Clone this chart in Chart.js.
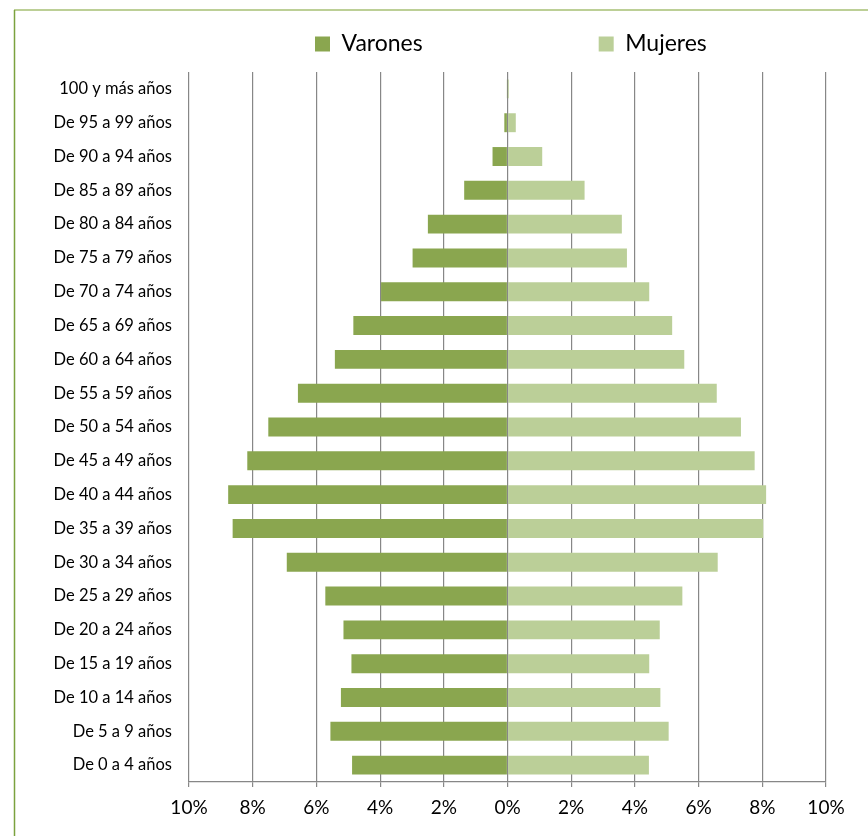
<!DOCTYPE html>
<html>
<head>
<meta charset="utf-8">
<script src="https://cdn.jsdelivr.net/npm/chart.js@4.4.1/dist/chart.umd.min.js"></script>
<style>
  html, body { margin: 0; padding: 0; background: #ffffff; }
  #wrap { position: relative; width: 868px; height: 836px; }
</style>
</head>
<body>
<div id="wrap"><canvas id="c" width="868" height="836"></canvas></div>
<script>
// Categories from youngest (bottom) to oldest (top)
const categorias = [
  'De 0 a 4 años', 'De 5 a 9 años', 'De 10 a 14 años', 'De 15 a 19 años',
  'De 20 a 24 años', 'De 25 a 29 años', 'De 30 a 34 años', 'De 35 a 39 años',
  'De 40 a 44 años', 'De 45 a 49 años', 'De 50 a 54 años', 'De 55 a 59 años',
  'De 60 a 64 años', 'De 65 a 69 años', 'De 70 a 74 años', 'De 75 a 79 años',
  'De 80 a 84 años', 'De 85 a 89 años', 'De 90 a 94 años', 'De 95 a 99 años',
  '100 y más años'
];
// Percent of population
const varones = [4.88, 5.56, 5.23, 4.90, 5.15, 5.72, 6.93, 8.63, 8.77, 8.17, 7.51, 6.58, 5.42, 4.84, 3.97, 2.98, 2.50, 1.36, 0.47, 0.10, 0.01];
const mujeres = [4.44, 5.06, 4.80, 4.45, 4.78, 5.49, 6.60, 8.03, 8.12, 7.76, 7.33, 6.57, 5.55, 5.17, 4.45, 3.75, 3.59, 2.42, 1.09, 0.26, 0.04];
const etiquetasX = ['10%', '8%', '6%', '4%', '2%', '0%', '2%', '4%', '6%', '8%', '10%'];

const FONT = 'Lato, "Liberation Sans", sans-serif';
const LEG_FONT = 23;
const LEG_PAD = 176;

const framePlugin = {
  id: 'frame',
  beforeDraw(chart) {
    const ctx = chart.ctx;
    ctx.save();
    ctx.strokeStyle = '#bccf96';
    ctx.lineWidth = 2;
    ctx.beginPath(); ctx.moveTo(14, 10); ctx.lineTo(868, 10); ctx.stroke();
    ctx.strokeStyle = '#7ba23e';
    ctx.lineWidth = 1.5;
    ctx.beginPath(); ctx.moveTo(14.5, 10); ctx.lineTo(14.5, 836); ctx.stroke();
    ctx.restore();
  }
};

const legendPos = {
  id: 'legendPos',
  afterLayout(chart) {
    const lg = chart.legend;
    if (!lg) return;
    const w = lg.right - lg.left;
    lg.left = 315 - LEG_PAD;
    lg.right = lg.left + Math.max(w, 700);
    lg.top = 44 - LEG_FONT / 2 - LEG_PAD;
  }
};

// legend height = font + padding + 10; chart area must start at y = 72
const TOP_PAD = 72 - (LEG_FONT + LEG_PAD + 10);

new Chart(document.getElementById('c'), {
  type: 'bar',
  data: {
    labels: categorias,
    datasets: [
      {
        label: 'Varones',
        data: varones.map(v => -v),
        backgroundColor: '#8aa64f',
        borderWidth: 0,
        barPercentage: 0.56,
        categoryPercentage: 1.0
      },
      {
        label: 'Mujeres',
        data: mujeres,
        backgroundColor: '#bbcf98',
        borderWidth: 0,
        barPercentage: 0.56,
        categoryPercentage: 1.0
      }
    ]
  },
  options: {
    indexAxis: 'y',
    responsive: false,
    animation: false,
    devicePixelRatio: 1,
    layout: { padding: { top: TOP_PAD, left: 10, right: 42, bottom: 0 } },
    plugins: {
      tooltip: { enabled: false },
      legend: {
        display: true,
        position: 'top',
        align: 'start',
        labels: {
          boxWidth: 15,
          boxHeight: 15,
          padding: LEG_PAD,
          color: '#000000',
          font: { family: FONT, size: LEG_FONT }
        }
      }
    },
    scales: {
      x: {
        type: 'linear',
        stacked: true,
        min: -10,
        max: 10,
        afterFit(scale) { scale.height = 54; },
        ticks: {
          stepSize: 2,
          color: '#000000',
          padding: 9,
          font: { family: FONT, size: 19 },
          maxRotation: 0,
          callback: (v, i) => etiquetasX[i]
        },
        grid: {
          color: '#878787',
          lineWidth: 1.2,
          drawTicks: true,
          tickLength: 5,
          tickColor: '#878787'
        },
        border: { display: true, color: '#878787', width: 1.2 }
      },
      y: {
        stacked: true,
        reverse: true,
        afterFit(scale) { scale.width = 179; },
        ticks: {
          color: '#000000',
          padding: 17,
          font: { family: FONT, size: 16.5 },
          autoSkip: false
        },
        grid: { display: false, drawTicks: false },
        border: { display: false }
      }
    }
  },
  plugins: [framePlugin, legendPos]
});
</script>
</body>
</html>
